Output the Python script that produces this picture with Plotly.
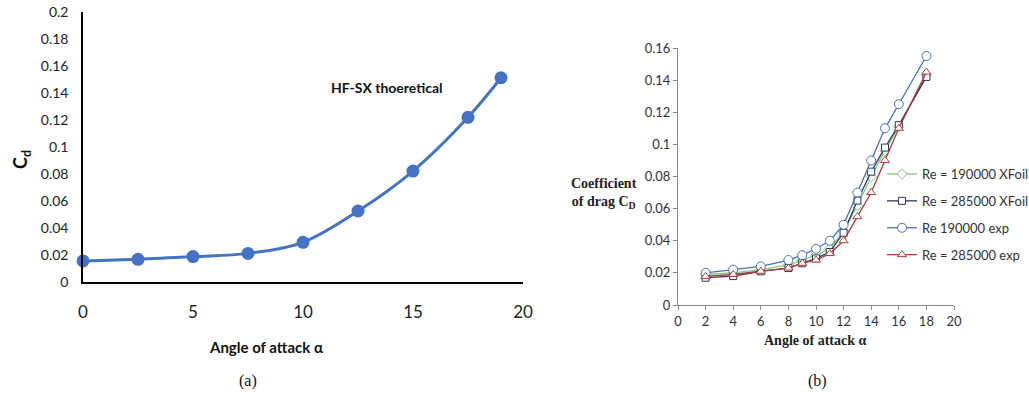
import plotly.graph_objects as go

# ---- panel (a): HF-SX theoretical drag coefficient ----
alpha_a = [0, 2.5, 5, 7.5, 10, 12.5, 15, 17.5, 19]
cd_a = [0.0156, 0.0168, 0.0188, 0.0212, 0.0294, 0.0526, 0.0822, 0.122, 0.1513]
yticks_a = [0, 0.02, 0.04, 0.06, 0.08, 0.1, 0.12, 0.14, 0.16, 0.18, 0.2]
yticklabels_a = ["0", "0.02", "0.04", "0.06", "0.08", "0.1", "0.12", "0.14", "0.16", "0.18", "0.2"]
xticks_a = [0, 5, 10, 15, 20]

# ---- panel (b): XFoil vs experiment ----
alpha_b = [2, 4, 6, 8, 9, 10, 11, 12, 13, 14, 15, 16, 18]
cd_190k_xfoil = [0.019, 0.020, 0.022, 0.025, 0.028, 0.031, 0.035, 0.046, 0.062, 0.080, 0.096, 0.111, 0.143]
cd_285k_xfoil = [0.017, 0.018, 0.021, 0.023, 0.026, 0.029, 0.033, 0.045, 0.065, 0.083, 0.098, 0.112, 0.142]
cd_190k_exp = [0.020, 0.022, 0.024, 0.028, 0.031, 0.035, 0.040, 0.050, 0.070, 0.090, 0.110, 0.125, 0.155]
cd_285k_exp = [0.0178, 0.019, 0.021, 0.023, 0.026, 0.028, 0.032, 0.040, 0.055, 0.070, 0.090, 0.110, 0.145]
yticks_b = [0, 0.02, 0.04, 0.06, 0.08, 0.1, 0.12, 0.14, 0.16]
yticklabels_b = ["0", "0.02", "0.04", "0.06", "0.08", "0.1", "0.12", "0.14", "0.16"]
xticks_b = [0, 2, 4, 6, 8, 10, 12, 14, 16, 18, 20]

W, H = 1029, 396
SANS = "Lato, 'Open Sans', sans-serif"
SERIF = "'Liberation Serif', 'DejaVu Serif', serif"

fig = go.Figure()

fig.add_trace(go.Scatter(
    x=alpha_a, y=cd_a, mode="lines+markers", line=dict(color="#4472C4", width=3, shape="spline"),
    marker=dict(size=13, color="#4472C4"), showlegend=False, cliponaxis=False,
    xaxis="x", yaxis="y"))

series_b = [
    ("Re = 190000 XFoil", cd_190k_xfoil, "#7fc97a", "diamond", 8),
    ("Re = 285000 XFoil", cd_285k_xfoil, "#2b3a55", "square", 7),
    ("Re 190000 exp", cd_190k_exp, "#4a6fb5", "circle", 9),
    ("Re = 285000 exp", cd_285k_exp, "#b03a3a", "triangle-up", 8),
]
for i, (name, vals, col, sym, sz) in enumerate(series_b):
    fig.add_trace(go.Scatter(
        x=alpha_b, y=vals, name=name, mode="lines+markers",
        line=dict(color=col, width=1.3),
        marker=dict(symbol=sym, size=sz, color="white", line=dict(color=col, width=1)),
        xaxis="x2", yaxis="y2", legendgroup=f"g{i}", cliponaxis=False))

def px_x(p):
    return p / W

def px_y(p):
    return 1 - p / H

fig.update_layout(
    width=W, height=H, margin=dict(l=0, r=0, t=0, b=0, autoexpand=False),
    paper_bgcolor="white", plot_bgcolor="white",
    xaxis=dict(domain=[px_x(83), px_x(523)], range=[0, 20], tickvals=xticks_a,
               showgrid=False, zeroline=False, showline=True, linecolor="black", linewidth=1.5,
               ticks="", ticklabelstandoff=14, tickfont=dict(family=SANS, size=17, color="#222"), anchor="y"),
    yaxis=dict(domain=[px_y(282), px_y(12)], range=[0, 0.2], tickvals=yticks_a, ticktext=yticklabels_a,
               showgrid=False, zeroline=False, showline=True, linecolor="black", linewidth=1.5,
               ticks="", ticklabelstandoff=10, tickfont=dict(family=SANS, size=14, color="#222"), anchor="x"),
    xaxis2=dict(domain=[px_x(678), px_x(954)], range=[0, 20], tickvals=xticks_b,
                showgrid=False, zeroline=False, showline=True, linecolor="#8a8a8a", linewidth=1,
                ticks="outside", ticklen=4, tickcolor="#8a8a8a",
                tickfont=dict(family=SANS, size=13, color="#333"), anchor="y2"),
    yaxis2=dict(domain=[px_y(305), px_y(48)], range=[0, 0.16], tickvals=yticks_b, ticktext=yticklabels_b,
                showgrid=False, zeroline=False, showline=True, linecolor="#8a8a8a", linewidth=1,
                ticks="outside", ticklen=4, tickcolor="#8a8a8a",
                tickfont=dict(family=SANS, size=13, color="#333"), anchor="x2"),
    legend=dict(x=px_x(882), y=px_y(159), xanchor="left", yanchor="top",
                bgcolor="rgba(0,0,0,0)", font=dict(family=SANS, size=13, color="#333"),
                traceorder="grouped", tracegroupgap=7, itemwidth=30),
    showlegend=True,
)

annotations = [
    dict(text="<b>HF-SX thoeretical</b>", x=px_x(387), y=px_y(87), font=dict(family=SANS, size=14, color="#111")),
    dict(text="<b>C<sub>d</sub></b>", x=px_x(22), y=px_y(160), textangle=-90, font=dict(family=SANS, size=18, color="#111")),
    dict(text="<b>Angle of attack α</b>", x=px_x(266), y=px_y(347), font=dict(family=SANS, size=15, color="#111")),
    dict(text="(a)", x=px_x(248), y=px_y(381), font=dict(family=SERIF, size=16, color="#111")),
    dict(text="(b)", x=px_x(817), y=px_y(381), font=dict(family=SERIF, size=16, color="#111")),
    dict(text="<b>Coefficient<br>of drag C<sub>D</sub></b>", x=px_x(604), y=px_y(194),
         font=dict(family=SERIF, size=14, color="#222")),
    dict(text="<b>Angle of attack α</b>", x=px_x(815), y=px_y(340), font=dict(family=SERIF, size=14, color="#222")),
]
for a in annotations:
    a.update(xref="paper", yref="paper", showarrow=False, xanchor="center", yanchor="middle")
fig.update_layout(annotations=annotations)

fig.write_html("out.html")
